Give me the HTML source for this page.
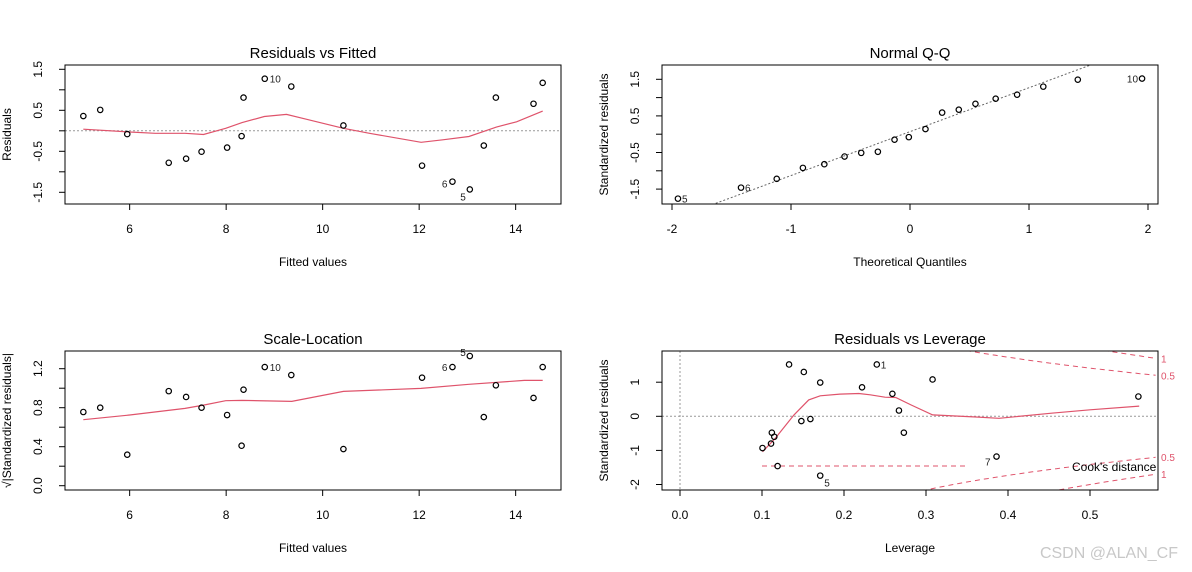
<!DOCTYPE html>
<html><head><meta charset="utf-8"><style>
html,body{margin:0;padding:0;background:#fff;}
svg{display:block;font-family:"Liberation Sans",sans-serif;}
</style></head><body>
<svg id="c" width="1192" height="572" viewBox="0 0 1192 572" xmlns="http://www.w3.org/2000/svg"></svg>
<script>
// ---- data ----
const fitted = [5.04,5.39,5.95,6.81,7.17,7.49,8.02,8.32,8.36,8.80,9.35,10.43,12.06,12.69,13.05,13.34,13.59,14.37,14.56];
const residuals = [0.36,0.51,-0.08,-0.78,-0.68,-0.51,-0.41,-0.13,0.81,1.27,1.08,0.13,-0.85,-1.24,-1.43,-0.36,0.81,0.66,1.17];
const residLabels = ["","","","","","","","","","10","","","","6","5","","","",""];
const rfSmoothX = [5.04,6.0,6.53,7.15,7.53,7.99,8.33,8.79,9.25,9.67,10.43,10.97,12.04,12.49,13.03,13.60,14.02,14.56];
const rfSmoothY = [0.04,-0.03,-0.06,-0.06,-0.09,0.06,0.20,0.35,0.40,0.28,0.06,-0.06,-0.28,-0.22,-0.14,0.09,0.22,0.48];

const qqTheo = [-1.95,-1.42,-1.12,-0.90,-0.72,-0.55,-0.41,-0.27,-0.13,-0.01,0.13,0.27,0.41,0.55,0.72,0.90,1.12,1.41,1.95];
const qqStd = [-1.76,-1.46,-1.22,-0.92,-0.82,-0.61,-0.51,-0.48,-0.15,-0.08,0.14,0.59,0.67,0.83,0.97,1.08,1.30,1.49,1.52];
const qqLabels = ["5","6","","","","","","","","","","","","","","","","","10"];
const qqLine = [0.07,1.2]; // intercept, slope

const slValues = [0.756,0.80,0.318,0.97,0.91,0.80,0.725,0.41,0.985,1.217,1.135,0.376,1.108,1.217,1.33,0.704,1.03,0.90,1.217];
const slSmoothX = [5.04,6.0,7.15,7.53,7.99,8.33,9.36,10.43,12.04,13.03,14.18,14.56];
const slSmoothY = [0.677,0.725,0.793,0.827,0.872,0.875,0.865,0.967,0.998,1.04,1.08,1.08];

const leverage = [0.1006,0.111,0.112,0.115,0.119,0.133,0.148,0.151,0.159,0.171,0.171,0.222,0.240,0.259,0.267,0.273,0.308,0.386,0.559];
const levStd = [-0.93,-0.80,-0.48,-0.60,-1.46,1.52,-0.14,1.30,-0.08,0.99,-1.74,0.85,1.52,0.66,0.17,-0.48,1.08,-1.18,0.58];
const levLabels = ["","","","","","","","","","","5","","1","","","","","7",""];
const levSmoothX = [0.1006,0.116,0.139,0.157,0.171,0.195,0.218,0.232,0.250,0.263,0.282,0.308,0.361,0.389,0.453,0.500,0.560];
const levSmoothY = [-1.04,-0.65,0.04,0.48,0.60,0.65,0.67,0.63,0.56,0.55,0.33,0.04,-0.02,-0.06,0.09,0.19,0.30];
const cookLevels = [0.5,1];
const cookP = 4;

const RED = "#DF536B";
const svg = document.getElementById('c');
const NS = "http://www.w3.org/2000/svg";
function mk(tag, attrs, parent){
  const e = document.createElementNS(NS, tag);
  for (const k in attrs) e.setAttribute(k, attrs[k]);
  (parent||svg).appendChild(e);
  return e;
}
function txt(x,y,s,size,anchor,rot,parent,fill){
  const t = mk('text',{x:x,y:y,'font-size':size,'text-anchor':anchor||'middle',fill:fill||'#000'},parent);
  if (rot) t.setAttribute('transform','rotate(-90 '+x+' '+y+')');
  t.textContent = s;
  return t;
}

function panel(cfg){
  const g = mk('g',{});
  
  
  const {L,R,T,B} = cfg.box;
  const clipId = cfg.name+'-clip';
  const cp = mk('clipPath',{id:clipId},g);
  mk('rect',{x:L,y:T,width:R-L,height:B-T},cp);
  const ti = txt((L+R)/2, T-7, cfg.title, 15, 'middle', false, g);
  
  
  cfg.xticks.forEach(v=>{
    const x = cfg.sx(v);
    mk('line',{x1:x,x2:x,y1:B,y2:B+6,stroke:'#000','stroke-width':1},g);
    const t = txt(x, B+29, cfg.xfmt(v), 12, 'middle', false, g);
    
    
  });
  cfg.yticks.forEach(v=>{
    const y = cfg.sy(v);
    mk('line',{x1:L-6,x2:L,y1:y,y2:y,stroke:'#000','stroke-width':1},g);
  });
  cfg.ylabels.forEach(v=>{
    const y = cfg.sy(v);
    const t = txt(L-23, y, cfg.yfmt(v), 12, 'middle', true, g);
    
    
  });
  const xl = txt((L+R)/2, B+62, cfg.xlab, 12, 'middle', false, g);
  
  
  const yl = txt(L-54, (T+B)/2, cfg.ylab, 12, 'middle', true, g);
  
  
  const inner = mk('g',{'clip-path':'url(#'+clipId+')'},g);
  if (cfg.extra) cfg.extra(inner, g);
  if (cfg.smx){
    const d = cfg.smx.map((v,i)=>(i?'L':'M')+cfg.sx(v).toFixed(1)+' '+cfg.sy(cfg.smy[i]).toFixed(1)).join(' ');
    const p = mk('path',{d:d,fill:'none',stroke:RED,'stroke-width':1.2},inner);
    
    
  }
  cfg.px.forEach((v,i)=>{
    const c = mk('circle',{cx:cfg.sx(v),cy:cfg.sy(cfg.py[i]),r:2.7,fill:'none',stroke:'#000','stroke-width':1.2},inner);
    
    
    const lab = cfg.labels ? cfg.labels[i] : '';
    if (lab){
      const side = cfg.labSide(i);
      const t = txt(cfg.sx(v)+side[0], cfg.sy(cfg.py[i])+side[1], lab, 10, side[2], false, g, '#222');
      
      
    }
  });
  const fr = mk('rect',{x:L,y:T,width:R-L,height:B-T,fill:'none',stroke:'#000','stroke-width':1},g);
  
  
}

function range(a,b,s){const r=[];for(let v=a;v<=b+1e-9;v+=s)r.push(+v.toFixed(3));return r;}

const sx1 = f=>65+(f-4.66)*48.25;
panel({name:'residuals-vs-fitted', box:{L:65,R:561,T:65,B:204}, title:'Residuals vs Fitted',
  sx:sx1, sy:v=>130.8-v*41, xticks:[6,8,10,12,14], xfmt:v=>String(v),
  yticks:range(-1.5,1.5,0.5), ylabels:[-1.5,-0.5,0.5,1.5], yfmt:v=>v.toFixed(1),
  xlab:'Fitted values', ylab:'Residuals', px:fitted, py:residuals, labels:residLabels,
  labSide:i=>residLabels[i]==='10'?[5,4,'start']:(residLabels[i]==='6'?[-5,6,'end']:[-4,11,'end']),
  smx:rfSmoothX, smy:rfSmoothY,
  extra:(g)=>{ const y=130.8; const l=mk('line',{x1:65,x2:561,y1:y,y2:y,stroke:'#999','stroke-dasharray':'2,2'},g);
      }
});

const sx2 = q=>910+q*119, sy2 = v=>134.2-v*36.6;
panel({name:'normal-qq', box:{L:662,R:1158,T:65,B:204}, title:'Normal Q-Q',
  sx:sx2, sy:sy2, xticks:[-2,-1,0,1,2], xfmt:v=>String(v),
  yticks:range(-1.5,1.5,0.5), ylabels:[-1.5,-0.5,0.5,1.5], yfmt:v=>v.toFixed(1),
  xlab:'Theoretical Quantiles', ylab:'Standardized residuals', px:qqTheo, py:qqStd, labels:qqLabels,
  labSide:i=>qqLabels[i]==='10'?[-4,4,'end']:[4,4,'start'],
  extra:(g)=>{ const l=mk('line',{x1:sx2(-2.2),x2:sx2(2.2),y1:sy2(qqLine[0]+qqLine[1]*-2.2),y2:sy2(qqLine[0]+qqLine[1]*2.2),stroke:'#666','stroke-dasharray':'2,2'},g);
      }
});

panel({name:'scale-location', box:{L:65,R:561,T:351,B:490}, title:'Scale-Location',
  sx:sx1, sy:v=>485.7-v*97.5, xticks:[6,8,10,12,14], xfmt:v=>String(v),
  yticks:range(0,1.2,0.2), ylabels:[0,0.4,0.8,1.2], yfmt:v=>v.toFixed(1),
  xlab:'Fitted values', ylab:'\u221A|Standardized residuals|', px:fitted, py:slValues, labels:residLabels,
  labSide:i=>residLabels[i]==='10'?[5,4,'start']:(residLabels[i]==='6'?[-5,4,'end']:[-4,0,'end']),
  smx:slSmoothX, smy:slSmoothY
});

const sx4 = h=>680+h*820, sy4 = v=>416.3-v*34.1;
panel({name:'residuals-vs-leverage', box:{L:662,R:1158,T:351,B:490}, title:'Residuals vs Leverage',
  sx:sx4, sy:sy4, xticks:[0,0.1,0.2,0.3,0.4,0.5], xfmt:v=>v.toFixed(1),
  yticks:[-2,-1,0,1], ylabels:[-2,-1,0,1], yfmt:v=>String(v),
  xlab:'Leverage', ylab:'Standardized residuals', px:leverage, py:levStd, labels:levLabels,
  labSide:i=>levLabels[i]==='7'?[-6,9,'end']:(levLabels[i]==='5'?[4,11,'start']:[4,4,'start']),
  smx:levSmoothX, smy:levSmoothY,
  extra:(g,outer)=>{
    let l=mk('line',{x1:662,x2:1158,y1:sy4(0),y2:sy4(0),stroke:'#999','stroke-dasharray':'2,2'},g);
     
    l=mk('line',{x1:sx4(0),x2:sx4(0),y1:351,y2:490,stroke:'#999','stroke-dasharray':'2,2'},g);
     
    cookLevels.forEach(c=>{
      [1,-1].forEach(sg=>{
        const pts=[];
        for(let h=0.2;h<=0.585;h+=0.005){ pts.push(sx4(h).toFixed(1)+' '+sy4(sg*Math.sqrt(c*cookP*(1-h)/h)).toFixed(1)); }
        const p=mk('path',{d:'M'+pts.join(' L'),fill:'none',stroke:RED,'stroke-dasharray':'5,4','stroke-width':1},g);
        
        
        const he=0.5824;
        const t=txt(1161, sy4(sg*Math.sqrt(c*cookP*(1-he)/he))+4, String(c), 10, 'start', false, outer, RED);
        
        
      });
    });
    const ll=mk('line',{x1:762,x2:968,y1:466,y2:466,stroke:RED,'stroke-dasharray':'5,4'},g);
     
    const lt=txt(1072,471,"Cook's distance",12,'start',false,g);
     
  }
});

const wm = txt(1178, 558, 'CSDN @ALAN_CF', 16, 'end', false, svg, '#c8c8c8');


</script>
</body></html>
